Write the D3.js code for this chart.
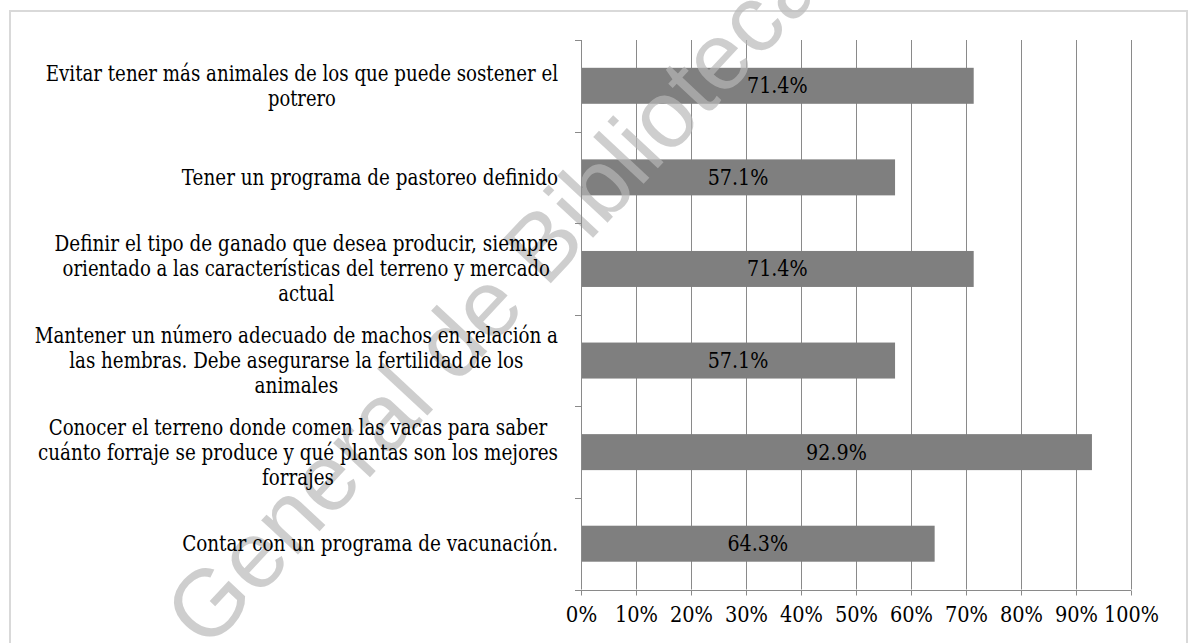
<!DOCTYPE html>
<html>
<head>
<meta charset="utf-8">
<script src="https://cdn.jsdelivr.net/npm/d3@7"></script>
<style>
	body { margin: 0; background: #fff; }
</style>
</head>
<body>
<svg id="barchart"></svg>
<script>
// categories, already broken into lines the way the chart wraps them
let categories = [
	["Evitar tener más animales de los que puede sostener el", "potrero"],
	["Tener un programa de pastoreo definido"],
	["Definir el tipo de ganado que desea producir, siempre", "orientado a las características del terreno y mercado", "actual"],
	["Mantener un número adecuado de machos en relación a", "las hembras. Debe asegurarse la fertilidad de los", "animales"],
	["Conocer el terreno donde comen las vacas para saber", "cuánto forraje se produce y qué plantas son los mejores", "forrajes"],
	["Contar con un programa de vacunación."]
];
let values = [71.4, 57.1, 71.4, 57.1, 92.9, 64.3];
let xTicks = [0, 10, 20, 30, 40, 50, 60, 70, 80, 90, 100];
let watermark = "General de Bibliotecas";

function makeChart() {
	let w = 1189;
	let h = 643;
	let marginT = 40;
	let marginL = 581;
	let marginR = 58;
	let marginB = 53.5;
	let fontSize = 21.5;
	let lineH = 25;
	let serif = "'DejaVu Serif', serif";
	let gridColor = '#8a8a8a';

	let chart = d3.select('#barchart')
		.attr('width', w)
		.attr('height', h);

	// hidden text used to get Times-like widths for each string
	let measurer = chart.append('text')
		.attr('font-family', "'Liberation Serif'")
		.attr('font-size', 23.5)
		.style('visibility', 'hidden');
	function fitWidth(s) {
		measurer.text(s);
		return measurer.node().getComputedTextLength();
	}
	function fit(t) {
		t.attr('textLength', fitWidth(t.text()))
			.attr('lengthAdjust', 'spacingAndGlyphs');
	}

	// outer frame
	chart.append('rect')
		.attr('x', 10)
		.attr('y', 11)
		.attr('width', 1177)
		.attr('height', 640)
		.style('fill', 'none')
		.style('stroke', '#d9d9d9')
		.style('stroke-width', 2);

	let idx = d3.range(values.length);

	let xScale = d3.scaleLinear()
		.domain([0, 100])
		.range([marginL, w - marginR]);

	let yScale = d3.scaleBand()
		.domain(idx)
		.range([marginT, h - marginB])
		.paddingInner(0.607)
		.paddingOuter(0.3035);

	let band = (h - marginB - marginT) / values.length;

	// vertical gridlines
	chart.append('g')
		.selectAll('line')
		.data(xTicks.slice(1))
		.enter()
		.append('line')
		.attr('x1', d => Math.round(xScale(d)) + 0.5)
		.attr('x2', d => Math.round(xScale(d)) + 0.5)
		.attr('y1', marginT)
		.attr('y2', h - marginB)
		.style('stroke', gridColor)
		.style('stroke-width', 1);

	// bars
	chart.selectAll('.bar')
		.data(idx)
		.enter()
		.append('rect')
		.attr('class', 'bar')
		.attr('x', xScale(0))
		.attr('y', i => yScale(i))
		.attr('width', i => xScale(values[i]) - xScale(0))
		.attr('height', yScale.bandwidth())
		.style('fill', '#7f7f7f');

	// watermark, semi transparent over the plot
	chart.append('text')
		.attr('transform', 'translate(207,652) rotate(-47)')
		.attr('font-family', "'Liberation Sans', Arial, sans-serif")
		.attr('font-size', '95px')
		.style('fill', '#b8b8b8')
		.style('opacity', 0.68)
		.text(watermark);

	// x axis
	let xAxis = d3.axisBottom(xScale)
		.tickValues(xTicks)
		.tickSize(5)
		.tickPadding(11)
		.tickFormat(d => d + '%');

	let gx = chart.append('g')
		.attr('transform', `translate(0, ${Math.round(h - marginB) + 0.5})`)
		.call(xAxis)
		.attr('font-family', serif)
		.attr('font-size', fontSize);
	gx.select('.domain')
		.attr('d', `M${xScale(0) - 6},0H${xScale(100)}`)
		.style('stroke', gridColor);
	gx.selectAll('.tick line').style('stroke', gridColor);
	gx.selectAll('.tick text')
		.style('fill', '#000')
		.each(function () { fit(d3.select(this)); });

	// y axis line with ticks on the band edges
	let yEdges = d3.range(values.length + 1).map(i => marginT + i * band);
	let gy = chart.append('g');
	gy.append('line')
		.attr('x1', Math.round(xScale(0)) + 0.5)
		.attr('x2', Math.round(xScale(0)) + 0.5)
		.attr('y1', marginT)
		.attr('y2', h - marginB)
		.style('stroke', gridColor);
	gy.selectAll('.ytick')
		.data(yEdges.slice(0, -1))
		.enter()
		.append('line')
		.attr('class', 'ytick')
		.attr('x1', xScale(0) - 6)
		.attr('x2', xScale(0))
		.attr('y1', d => Math.round(d) + 0.5)
		.attr('y2', d => Math.round(d) + 0.5)
		.style('stroke', gridColor);

	// category labels: centred block, right aligned against the axis
	let labelRight = xScale(0) - 23;
	idx.forEach(i => {
		let lines = categories[i];
		let cy = yScale(i) + yScale.bandwidth() / 2;
		let g = chart.append('g')
			.attr('font-family', serif)
			.attr('font-size', fontSize);
		let maxW = d3.max(lines, s => fitWidth(s));
		lines.forEach((s, k) => {
			let t = g.append('text')
				.attr('x', labelRight - maxW / 2)
				.attr('y', cy + (k - (lines.length - 1) / 2) * lineH)
				.attr('dy', '0.35em')
				.attr('text-anchor', 'middle')
				.style('fill', '#000')
				.text(s);
			fit(t);
		});
	});

	// value labels in the middle of each bar
	chart.append('g')
		.attr('font-family', serif)
		.attr('font-size', fontSize)
		.selectAll('.val')
		.data(idx)
		.enter()
		.append('text')
		.attr('class', 'val')
		.attr('x', i => (xScale(0) + xScale(values[i])) / 2)
		.attr('y', i => yScale(i) + yScale.bandwidth() / 2)
		.attr('dy', '0.35em')
		.attr('text-anchor', 'middle')
		.style('fill', '#000')
		.text(i => values[i].toFixed(1) + '%')
		.each(function () { fit(d3.select(this)); });
}

window.onload = function () {
	makeChart();
}
</script>
</body>
</html>
